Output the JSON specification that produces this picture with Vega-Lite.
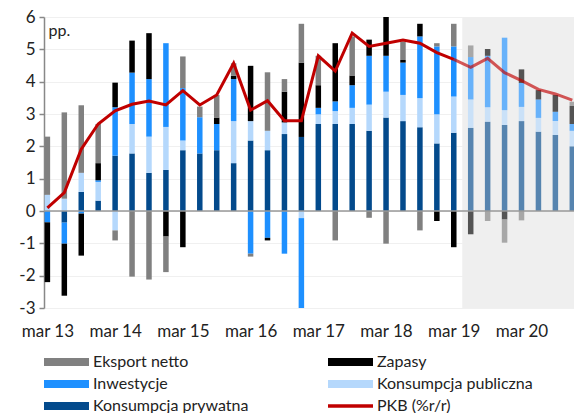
{
 "$schema": "https://vega.github.io/schema/vega-lite/v6.json",
 "width": 530, "height": 291,
 "autosize": "none",
 "padding": {"left": 44, "top": 17, "right": 0, "bottom": 105},
 "background": "white",
 "config": {"view": {"stroke": null}, "font": "Lato",
  "axisY": {"labelOverlap": false, "labelSeparation": -40, "domainColor": "#888", "domainWidth": 1.5, "tickColor": "#888", "tickSize": 5, "tickWidth": 1.5, "labelPadding": 4, "labelFontSize": 17, "labelColor": "#222", "gridColor": "#f0f0f0", "titleAngle": 0, "titleX": 4, "titleY": 13, "titleAlign": "left", "titleBaseline": "middle", "titleFontSize": 16, "titleFontWeight": "normal", "titleColor": "#222"},
  "axisX": {"labelOverlap": false, "domain": false, "ticks": false, "tickSize": 0, "grid": false, "labelPadding": 15, "labelFontSize": 17, "labelColor": "#222"}
 },
 "datasets": {
  "prognoza": [{"od": 24.5, "do": 31.5}],
  "pkb": [
   {"i":0,"v":0.1},{"i":1,"v":0.57},{"i":2,"v":1.91},{"i":3,"v":2.69},{"i":4,"v":3.1},{"i":5,"v":3.3},{"i":6,"v":3.4},{"i":7,"v":3.28},
   {"i":8,"v":3.72},{"i":9,"v":3.28},{"i":10,"v":3.59},{"i":11,"v":4.57},{"i":12,"v":3.12},{"i":13,"v":3.41},{"i":14,"v":2.79},{"i":15,"v":2.79},
   {"i":16,"v":4.8},{"i":17,"v":4.33},{"i":18,"v":5.5},{"i":19,"v":5.09},{"i":20,"v":5.19},{"i":21,"v":5.29},{"i":22,"v":5.19},{"i":23,"v":4.9},
   {"i":24,"v":4.69},{"i":25,"v":4.44},{"i":26,"v":4.72},{"i":27,"v":4.28},{"i":28,"v":4.03},{"i":29,"v":3.76},{"i":30,"v":3.62},{"i":31,"v":3.43}
  ],
  "bars": [
   {"i":0,"s":"Konsumpcja publiczna","n":2,"v":0.5,"okres":"dane"},
   {"i":0,"s":"Inwestycje","n":3,"v":-0.35,"okres":"dane"},
   {"i":0,"s":"Zapasy","n":4,"v":-1.85,"okres":"dane"},
   {"i":0,"s":"Eksport netto","n":5,"v":1.8,"okres":"dane"},
   {"i":1,"s":"Konsumpcja prywatna","n":1,"v":-0.36,"okres":"dane"},
   {"i":1,"s":"Konsumpcja publiczna","n":2,"v":0.38,"okres":"dane"},
   {"i":1,"s":"Inwestycje","n":3,"v":-0.65,"okres":"dane"},
   {"i":1,"s":"Zapasy","n":4,"v":-1.61,"okres":"dane"},
   {"i":1,"s":"Eksport netto","n":5,"v":2.67,"okres":"dane"},
   {"i":2,"s":"Konsumpcja prywatna","n":1,"v":0.59,"okres":"dane"},
   {"i":2,"s":"Konsumpcja publiczna","n":2,"v":0.59,"okres":"dane"},
   {"i":2,"s":"Inwestycje","n":3,"v":-0.08,"okres":"dane"},
   {"i":2,"s":"Zapasy","n":4,"v":-1.3,"okres":"dane"},
   {"i":2,"s":"Eksport netto","n":5,"v":2.09,"okres":"dane"},
   {"i":3,"s":"Konsumpcja prywatna","n":1,"v":0.32,"okres":"dane"},
   {"i":3,"s":"Konsumpcja publiczna","n":2,"v":0.58,"okres":"dane"},
   {"i":3,"s":"Inwestycje","n":3,"v":0.05,"okres":"dane"},
   {"i":3,"s":"Zapasy","n":4,"v":0.53,"okres":"dane"},
   {"i":3,"s":"Eksport netto","n":5,"v":1.21,"okres":"dane"},
   {"i":4,"s":"Konsumpcja prywatna","n":1,"v":1.71,"okres":"dane"},
   {"i":4,"s":"Konsumpcja publiczna","n":2,"v":-0.6,"okres":"dane"},
   {"i":4,"s":"Inwestycje","n":3,"v":1.5,"okres":"dane"},
   {"i":4,"s":"Zapasy","n":4,"v":0.76,"okres":"dane"},
   {"i":4,"s":"Eksport netto","n":5,"v":-0.31,"okres":"dane"},
   {"i":5,"s":"Konsumpcja prywatna","n":1,"v":1.78,"okres":"dane"},
   {"i":5,"s":"Konsumpcja publiczna","n":2,"v":0.91,"okres":"dane"},
   {"i":5,"s":"Inwestycje","n":3,"v":1.59,"okres":"dane"},
   {"i":5,"s":"Zapasy","n":4,"v":0.99,"okres":"dane"},
   {"i":5,"s":"Eksport netto","n":5,"v":-2.03,"okres":"dane"},
   {"i":6,"s":"Konsumpcja prywatna","n":1,"v":1.18,"okres":"dane"},
   {"i":6,"s":"Konsumpcja publiczna","n":2,"v":1.12,"okres":"dane"},
   {"i":6,"s":"Inwestycje","n":3,"v":1.78,"okres":"dane"},
   {"i":6,"s":"Zapasy","n":4,"v":1.42,"okres":"dane"},
   {"i":6,"s":"Eksport netto","n":5,"v":-2.12,"okres":"dane"},
   {"i":7,"s":"Konsumpcja prywatna","n":1,"v":1.27,"okres":"dane"},
   {"i":7,"s":"Konsumpcja publiczna","n":2,"v":1.33,"okres":"dane"},
   {"i":7,"s":"Inwestycje","n":3,"v":2.59,"okres":"dane"},
   {"i":7,"s":"Zapasy","n":4,"v":-0.79,"okres":"dane"},
   {"i":7,"s":"Eksport netto","n":5,"v":-1.1,"okres":"dane"},
   {"i":8,"s":"Konsumpcja prywatna","n":1,"v":1.88,"okres":"dane"},
   {"i":8,"s":"Konsumpcja publiczna","n":2,"v":0.3,"okres":"dane"},
   {"i":8,"s":"Inwestycje","n":3,"v":1.62,"okres":"dane"},
   {"i":8,"s":"Zapasy","n":4,"v":-1.12,"okres":"dane"},
   {"i":8,"s":"Eksport netto","n":5,"v":0.98,"okres":"dane"},
   {"i":9,"s":"Konsumpcja prywatna","n":1,"v":1.78,"okres":"dane"},
   {"i":9,"s":"Inwestycje","n":3,"v":1.12,"okres":"dane"},
   {"i":9,"s":"Eksport netto","n":5,"v":0.33,"okres":"dane"},
   {"i":10,"s":"Konsumpcja prywatna","n":1,"v":1.88,"okres":"dane"},
   {"i":10,"s":"Inwestycje","n":3,"v":0.81,"okres":"dane"},
   {"i":10,"s":"Zapasy","n":4,"v":0.2,"okres":"dane"},
   {"i":10,"s":"Eksport netto","n":5,"v":0.7,"okres":"dane"},
   {"i":11,"s":"Konsumpcja prywatna","n":1,"v":1.48,"okres":"dane"},
   {"i":11,"s":"Konsumpcja publiczna","n":2,"v":1.3,"okres":"dane"},
   {"i":11,"s":"Inwestycje","n":3,"v":1.3,"okres":"dane"},
   {"i":11,"s":"Zapasy","n":4,"v":0.1,"okres":"dane"},
   {"i":11,"s":"Eksport netto","n":5,"v":0.39,"okres":"dane"},
   {"i":12,"s":"Konsumpcja prywatna","n":1,"v":2.18,"okres":"dane"},
   {"i":12,"s":"Konsumpcja publiczna","n":2,"v":0.6,"okres":"dane"},
   {"i":12,"s":"Inwestycje","n":3,"v":-1.32,"okres":"dane"},
   {"i":12,"s":"Zapasy","n":4,"v":1.71,"okres":"dane"},
   {"i":12,"s":"Eksport netto","n":5,"v":-0.09,"okres":"dane"},
   {"i":13,"s":"Konsumpcja prywatna","n":1,"v":1.88,"okres":"dane"},
   {"i":13,"s":"Konsumpcja publiczna","n":2,"v":0.6,"okres":"dane"},
   {"i":13,"s":"Inwestycje","n":3,"v":-0.83,"okres":"dane"},
   {"i":13,"s":"Zapasy","n":4,"v":-0.08,"okres":"dane"},
   {"i":13,"s":"Eksport netto","n":5,"v":1.81,"okres":"dane"},
   {"i":14,"s":"Konsumpcja prywatna","n":1,"v":2.38,"okres":"dane"},
   {"i":14,"s":"Konsumpcja publiczna","n":2,"v":0.36,"okres":"dane"},
   {"i":14,"s":"Inwestycje","n":3,"v":-1.32,"okres":"dane"},
   {"i":14,"s":"Zapasy","n":4,"v":0.95,"okres":"dane"},
   {"i":14,"s":"Eksport netto","n":5,"v":0.39,"okres":"dane"},
   {"i":15,"s":"Konsumpcja prywatna","n":1,"v":2.29,"okres":"dane"},
   {"i":15,"s":"Konsumpcja publiczna","n":2,"v":-0.22,"okres":"dane"},
   {"i":15,"s":"Inwestycje","n":3,"v":-2.81,"okres":"dane"},
   {"i":15,"s":"Zapasy","n":4,"v":2.3,"okres":"dane"},
   {"i":15,"s":"Eksport netto","n":5,"v":1.2,"okres":"dane"},
   {"i":16,"s":"Konsumpcja prywatna","n":1,"v":2.69,"okres":"dane"},
   {"i":16,"s":"Konsumpcja publiczna","n":2,"v":0.3,"okres":"dane"},
   {"i":16,"s":"Inwestycje","n":3,"v":0.2,"okres":"dane"},
   {"i":16,"s":"Zapasy","n":4,"v":0.7,"okres":"dane"},
   {"i":16,"s":"Eksport netto","n":5,"v":0.91,"okres":"dane"},
   {"i":17,"s":"Konsumpcja prywatna","n":1,"v":2.69,"okres":"dane"},
   {"i":17,"s":"Konsumpcja publiczna","n":2,"v":0.4,"okres":"dane"},
   {"i":17,"s":"Inwestycje","n":3,"v":0.3,"okres":"dane"},
   {"i":17,"s":"Zapasy","n":4,"v":1.8,"okres":"dane"},
   {"i":17,"s":"Eksport netto","n":5,"v":-0.91,"okres":"dane"},
   {"i":18,"s":"Konsumpcja prywatna","n":1,"v":2.69,"okres":"dane"},
   {"i":18,"s":"Konsumpcja publiczna","n":2,"v":0.5,"okres":"dane"},
   {"i":18,"s":"Inwestycje","n":3,"v":0.7,"okres":"dane"},
   {"i":18,"s":"Zapasy","n":4,"v":0.3,"okres":"dane"},
   {"i":18,"s":"Eksport netto","n":5,"v":1.21,"okres":"dane"},
   {"i":19,"s":"Konsumpcja prywatna","n":1,"v":2.48,"okres":"dane"},
   {"i":19,"s":"Konsumpcja publiczna","n":2,"v":0.81,"okres":"dane"},
   {"i":19,"s":"Inwestycje","n":3,"v":1.51,"okres":"dane"},
   {"i":19,"s":"Zapasy","n":4,"v":0.5,"okres":"dane"},
   {"i":19,"s":"Eksport netto","n":5,"v":-0.21,"okres":"dane"},
   {"i":20,"s":"Konsumpcja prywatna","n":1,"v":2.89,"okres":"dane"},
   {"i":20,"s":"Konsumpcja publiczna","n":2,"v":0.8,"okres":"dane"},
   {"i":20,"s":"Inwestycje","n":3,"v":1.11,"okres":"dane"},
   {"i":20,"s":"Zapasy","n":4,"v":1.25,"okres":"dane"},
   {"i":20,"s":"Eksport netto","n":5,"v":-1.01,"okres":"dane"},
   {"i":21,"s":"Konsumpcja prywatna","n":1,"v":2.78,"okres":"dane"},
   {"i":21,"s":"Konsumpcja publiczna","n":2,"v":0.81,"okres":"dane"},
   {"i":21,"s":"Inwestycje","n":3,"v":1.0,"okres":"dane"},
   {"i":21,"s":"Zapasy","n":4,"v":0.08,"okres":"dane"},
   {"i":21,"s":"Eksport netto","n":5,"v":0.57,"okres":"dane"},
   {"i":22,"s":"Konsumpcja prywatna","n":1,"v":2.59,"okres":"dane"},
   {"i":22,"s":"Konsumpcja publiczna","n":2,"v":0.9,"okres":"dane"},
   {"i":22,"s":"Inwestycje","n":3,"v":1.91,"okres":"dane"},
   {"i":22,"s":"Zapasy","n":4,"v":0.39,"okres":"dane"},
   {"i":22,"s":"Eksport netto","n":5,"v":-0.6,"okres":"dane"},
   {"i":23,"s":"Konsumpcja prywatna","n":1,"v":2.09,"okres":"dane"},
   {"i":23,"s":"Konsumpcja publiczna","n":2,"v":0.9,"okres":"dane"},
   {"i":23,"s":"Inwestycje","n":3,"v":2.1,"okres":"dane"},
   {"i":23,"s":"Zapasy","n":4,"v":-0.31,"okres":"dane"},
   {"i":23,"s":"Eksport netto","n":5,"v":0.1,"okres":"dane"},
   {"i":24,"s":"Konsumpcja prywatna","n":1,"v":2.42,"okres":"dane"},
   {"i":24,"s":"Konsumpcja publiczna","n":2,"v":1.12,"okres":"dane"},
   {"i":24,"s":"Inwestycje","n":3,"v":1.55,"okres":"dane"},
   {"i":24,"s":"Zapasy","n":4,"v":-1.12,"okres":"dane"},
   {"i":24,"s":"Eksport netto","n":5,"v":0.7,"okres":"dane"},
   {"i":25,"s":"Konsumpcja prywatna","n":1,"v":2.57,"okres":"prognoza"},
   {"i":25,"s":"Konsumpcja publiczna","n":2,"v":0.88,"okres":"prognoza"},
   {"i":25,"s":"Inwestycje","n":3,"v":1.31,"okres":"prognoza"},
   {"i":25,"s":"Zapasy","n":4,"v":-0.72,"okres":"prognoza"},
   {"i":25,"s":"Eksport netto","n":5,"v":0.36,"okres":"prognoza"},
   {"i":26,"s":"Konsumpcja prywatna","n":1,"v":2.76,"okres":"prognoza"},
   {"i":26,"s":"Konsumpcja publiczna","n":2,"v":0.45,"okres":"prognoza"},
   {"i":26,"s":"Inwestycje","n":3,"v":1.59,"okres":"prognoza"},
   {"i":26,"s":"Zapasy","n":4,"v":0.21,"okres":"prognoza"},
   {"i":26,"s":"Eksport netto","n":5,"v":-0.31,"okres":"prognoza"},
   {"i":27,"s":"Konsumpcja prywatna","n":1,"v":2.66,"okres":"prognoza"},
   {"i":27,"s":"Konsumpcja publiczna","n":2,"v":0.46,"okres":"prognoza"},
   {"i":27,"s":"Inwestycje","n":3,"v":2.24,"okres":"prognoza"},
   {"i":27,"s":"Zapasy","n":4,"v":-0.26,"okres":"prognoza"},
   {"i":27,"s":"Eksport netto","n":5,"v":-0.72,"okres":"prognoza"},
   {"i":28,"s":"Konsumpcja prywatna","n":1,"v":2.78,"okres":"prognoza"},
   {"i":28,"s":"Konsumpcja publiczna","n":2,"v":0.44,"okres":"prognoza"},
   {"i":28,"s":"Inwestycje","n":3,"v":0.74,"okres":"prognoza"},
   {"i":28,"s":"Zapasy","n":4,"v":0.42,"okres":"prognoza"},
   {"i":28,"s":"Eksport netto","n":5,"v":-0.29,"okres":"prognoza"},
   {"i":29,"s":"Konsumpcja prywatna","n":1,"v":2.45,"okres":"prognoza"},
   {"i":29,"s":"Konsumpcja publiczna","n":2,"v":0.43,"okres":"prognoza"},
   {"i":29,"s":"Inwestycje","n":3,"v":0.57,"okres":"prognoza"},
   {"i":29,"s":"Zapasy","n":4,"v":0.29,"okres":"prognoza"},
   {"i":30,"s":"Konsumpcja prywatna","n":1,"v":2.35,"okres":"prognoza"},
   {"i":30,"s":"Konsumpcja publiczna","n":2,"v":0.43,"okres":"prognoza"},
   {"i":30,"s":"Inwestycje","n":3,"v":0.29,"okres":"prognoza"},
   {"i":30,"s":"Zapasy","n":4,"v":0.52,"okres":"prognoza"},
   {"i":31,"s":"Konsumpcja prywatna","n":1,"v":2.0,"okres":"prognoza"},
   {"i":31,"s":"Konsumpcja publiczna","n":2,"v":0.48,"okres":"prognoza"},
   {"i":31,"s":"Inwestycje","n":3,"v":0.21,"okres":"prognoza"},
   {"i":31,"s":"Zapasy","n":4,"v":0.56,"okres":"prognoza"},
   {"i":31,"s":"Eksport netto","n":5,"v":0.13,"okres":"prognoza"}
  ]
 },
 "layer": [
  {
   "data": {"name": "prognoza"},
   "mark": {"type": "rect", "color": "#efefef"},
   "encoding": {
    "x": {"field": "od", "type": "quantitative", "scale": {"domain": [-0.2, 31.1], "nice": false, "zero": false, "padding": 0},
      "axis": {"values": [0,4,8,12,16,20,24,28], "labelExpr": "'mar ' + (13 + datum.value / 4)", "title": null}},
    "x2": {"field": "do"}
   }
  },
  {
   "data": {"name": "bars"},
   "mark": {"type": "bar", "width": 5.5, "clip": true},
   "encoding": {
    "x": {"field": "i", "type": "quantitative"},
    "y": {"field": "v", "type": "quantitative", "stack": "zero", "scale": {"domain": [-3, 6], "nice": false},
      "axis": {"values": [-3,-2,-1,0,1,2,3,4,5,6], "labelExpr": "replace(datum.label, '\u2212', '-')", "labelOverlap": false, "labelSeparation": -40, "title": "pp."}},
    "color": {"field": "s", "type": "nominal",
      "scale": {"domain": ["Eksport netto", "Zapasy", "Inwestycje", "Konsumpcja publiczna", "Konsumpcja prywatna", "PKB (%r/r)"],
                "range": ["#808080", "#000000", "#1e90ff", "#b5d8fc", "#034a8c", "#c00000"]},
      "legend": {"orient": "none", "direction": "horizontal", "legendX": -4, "legendY": 337, "columns": 2, "title": null, "symbolType": "M-1,-1H10.25V1H-1Z", "symbolSize": 64, "symbolStrokeWidth": 0, "labelFontSize": 16, "labelOffset": 37, "labelColor": "#222", "rowPadding": 6, "columnPadding": 75, "padding": 0,
        "encode": {"symbols": {"update": {"shape": {"signal": "datum.label === 'PKB (%r/r)' ? 'M-1,-0.45H10.25V0.45H-1Z' : 'M-1,-1H10.25V1H-1Z'"}, "fill": {"scale": "color", "field": "value"}, "strokeWidth": {"value": 0}, "opacity": {"value": 1}}}}}},
    "opacity": {"field": "okres", "type": "nominal", "scale": {"domain": ["dane", "prognoza"], "range": [1, 0.65]}, "legend": null},
    "order": {"field": "n", "type": "quantitative", "sort": "ascending"}
   }
  },
  {
   "data": {"values": [{"zero": 0}]},
   "mark": {"type": "rule", "color": "#999", "strokeWidth": 1.5},
   "encoding": {"y": {"field": "zero", "type": "quantitative", "axis": {"values": [-3,-2,-1,0,1,2,3,4,5,6], "labelExpr": "replace(datum.label, '\u2212', '-')", "labelOverlap": false, "title": "pp."}}}
  },
  {
   "data": {"name": "pkb"},
   "transform": [{"filter": "datum.i <= 24"}],
   "mark": {"type": "line", "strokeWidth": 3},
   "encoding": {
    "x": {"field": "i", "type": "quantitative"},
    "y": {"field": "v", "type": "quantitative", "axis": {"values": [-3,-2,-1,0,1,2,3,4,5,6], "labelExpr": "replace(datum.label, '\u2212', '-')", "labelOverlap": false, "title": "pp."}},
    "color": {"datum": "PKB (%r/r)"}
   }
  },
  {
   "data": {"name": "pkb"},
   "transform": [{"filter": "datum.i >= 24"}],
   "mark": {"type": "line", "strokeWidth": 3, "opacity": 0.65},
   "encoding": {
    "x": {"field": "i", "type": "quantitative"},
    "y": {"field": "v", "type": "quantitative", "axis": {"values": [-3,-2,-1,0,1,2,3,4,5,6], "labelExpr": "replace(datum.label, '\u2212', '-')", "labelOverlap": false, "title": "pp."}},
    "color": {"datum": "PKB (%r/r)"}
   }
  }
 ]
}
